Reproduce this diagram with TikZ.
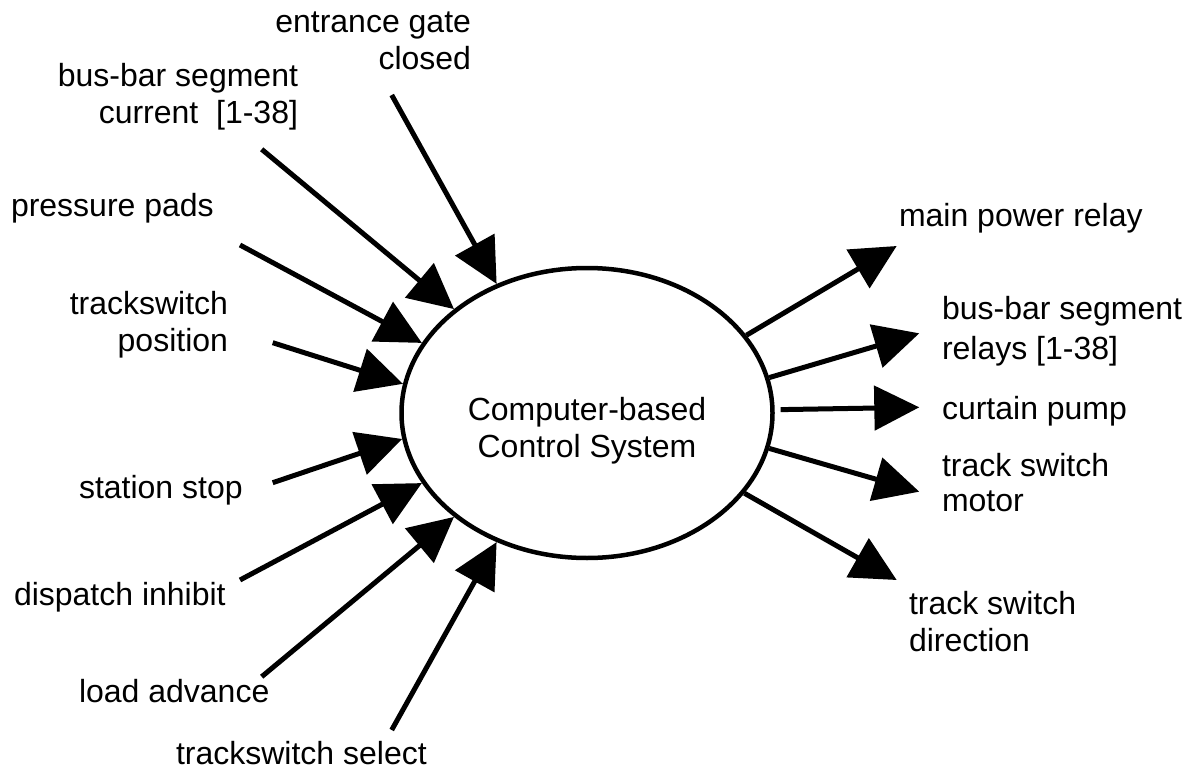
\documentclass[tikz,border=0pt]{standalone}
\usepackage{fontspec}
\setmainfont{Liberation Sans}
\usetikzlibrary{arrows.meta,shapes.geometric}
\begin{document}
\begin{tikzpicture}[x=1pt,y=-1pt,
  lbl/.style={font=\fontsize{32}{37}\selectfont, inner sep=0pt, outer sep=0pt},
  arr/.style={line width=5pt, -{Triangle[length=45pt,width=44pt]}},
  sysbox/.style={ellipse, draw, line width=4.5pt, minimum width=371pt, minimum height=290pt, inner sep=0pt}
]
\useasboundingbox (0,0) rectangle (1194,770);
\node[sysbox] (sys) at (587,413) {};
% multi-line nodes: base anchor is the baseline of the last line
\node[lbl, align=center, anchor=base] (systxt) at (587,457) {Computer-based\\Control System};

% input labels
\node[lbl, align=right, anchor=base east] (gate) at (471,70) {entrance gate\\closed};
\node[lbl, align=right, anchor=base east] (bbc) at (298,124) {bus-bar segment\\current\ \ [1-38]};
\node[lbl, anchor=base west] (pp) at (11,217) {pressure pads};
\node[lbl, align=right, anchor=base east] (tsp) at (228,351.5) {trackswitch\\position};
\node[lbl, anchor=base west] (ss) at (79,498) {station stop};
\node[lbl, anchor=base west] (di) at (14,605) {dispatch inhibit};
\node[lbl, anchor=base west] (la) at (79,702) {load advance};
\node[lbl, anchor=base west] (tss) at (176,764) {trackswitch select};

% output labels
\node[lbl, anchor=base west] (mpr) at (899,227) {main power relay};
\node[lbl, align=left, anchor=base west, font=\fontsize{32}{40}\selectfont] (bbr) at (942,359) {bus-bar segment\\relays [1-38]};
\node[lbl, anchor=base west] (cp) at (942,419) {curtain pump};
\node[lbl, align=left, anchor=base west, font=\fontsize{32}{35}\selectfont] (tsm) at (942,511.5) {track switch\\motor};
\node[lbl, align=left, anchor=base west] (tsd) at (909,651.5) {track switch\\direction};

% free ends of input arrows
\coordinate (s1) at (391.7,95);
\coordinate (s2) at (261.7,149.3);
\coordinate (s3) at (240,245);
\coordinate (s4) at (272.7,342.7);
\coordinate (s5) at (272.7,482.7);
\coordinate (s6) at (240,580);
\coordinate (s7) at (261.7,676.7);
\coordinate (s8) at (391.7,730);

% free ends of output arrows
\coordinate (t1) at (896.7,246);
\coordinate (t2) at (919.3,333.3);
\coordinate (t3) at (919.3,407.3);
\coordinate (t4) at (919.3,491.7);
\coordinate (t5) at (896.7,580);

\draw[arr] (s1) -- (sys.125.2);
\draw[arr] (s2) -- (sys.142);
\draw[arr] (s3) -- (sys.157);
\draw[arr] (s4) -- (sys.171.8);
\draw[arr] (s5) -- (sys.188.3);
\draw[arr] (s6) -- (sys.203.3);
\draw[arr] (s7) -- (sys.218.2);
\draw[arr] (s8) -- (sys.235.2);

\draw[arr] (sys.26.7) -- (t1);
\draw[arr] (sys.11.5) -- (t2);
\draw[arr, shorten <=6pt] (sys.1.5) -- (t3);
\draw[arr] (sys.-11.8) -- (t4);
\draw[arr] (sys.-27) -- (t5);
\end{tikzpicture}
\end{document}
